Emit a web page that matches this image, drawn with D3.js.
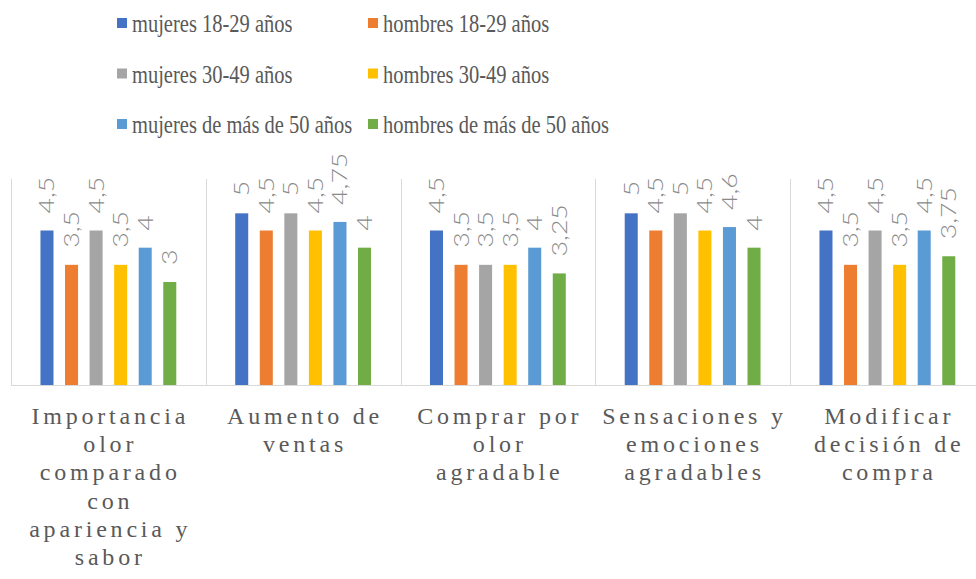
<!DOCTYPE html>
<html>
<head>
<meta charset="utf-8">
<script src="https://cdn.jsdelivr.net/npm/d3@7"></script>
<style>
  html, body { margin: 0; padding: 0; background: #ffffff; }
  svg { display: block; }
  .serif { font-family: "Liberation Serif", "Tinos", "Noto Serif", "DejaVu Serif", "FreeSerif", "Nimbus Roman", "Noto Serif CJK SC", "Times New Roman", Times, serif; }
  .lbl { font-family: Lato, "Open Sans", sans-serif; }
</style>
</head>
<body>
<svg id="chart" width="976" height="579"></svg>
<script>
// ---- data ----
const categories = [
  "Importancia olor comparado con apariencia y sabor",
  "Aumento de ventas",
  "Comprar por olor agradable",
  "Sensaciones y emociones agradables",
  "Modificar decisión de compra"
];
const categoryLines = [
  ["Importancia", "olor", "comparado", "con", "apariencia y", "sabor"],
  ["Aumento de", "ventas"],
  ["Comprar por", "olor", "agradable"],
  ["Sensaciones y", "emociones", "agradables"],
  ["Modificar", "decisión de", "compra"]
];
const seriesNames = [
  "mujeres 18-29 años",
  "hombres 18-29 años",
  "mujeres 30-49 años",
  "hombres 30-49 años",
  "mujeres de más de 50 años",
  "hombres de más de 50 años"
];
const seriesColors = ["#4472C4", "#ED7D31", "#A5A5A5", "#FFC000", "#5B9BD5", "#70AD47"];
const mujeres1829 = [4.5, 5, 4.5, 5, 4.5];
const hombres1829 = [3.5, 4.5, 3.5, 4.5, 3.5];
const mujeres3049 = [4.5, 5, 3.5, 5, 4.5];
const hombres3049 = [3.5, 4.5, 3.5, 4.5, 3.5];
const mujeres50 = [4, 4.75, 4, 4.6, 4.5];
const hombres50 = [3, 4, 3.25, 4, 3.75];
const yDomain = [0, 6];

const seriesValues = [mujeres1829, hombres1829, mujeres3049, hombres3049, mujeres50, hombres50];

// ---- layout ----
const svg = d3.select("#chart");
const plotLeft = 11, catWidth = 194.75;
const baseY = 385, topY = 179;

const x0 = d3.scaleBand()
  .domain(categories)
  .range([plotLeft, plotLeft + catWidth * categories.length])
  .paddingInner(0).paddingOuter(0);

const x1 = d3.scaleBand()
  .domain(seriesNames)
  .range([0, x0.bandwidth()])
  .paddingInner(0.47)
  .paddingOuter(1.2);

const y = d3.scaleLinear().domain(yDomain).range([baseY, topY]);

const gridColor = "#d9d9d9";

// category separators
const seps = categories.map(c => x0(c)).concat([x0.range()[1]]);
svg.append("g").selectAll("line").data(seps).join("line")
  .attr("x1", d => Math.round(d) + 0.5).attr("x2", d => Math.round(d) + 0.5)
  .attr("y1", y(yDomain[1])).attr("y2", baseY)
  .attr("stroke", gridColor).attr("stroke-width", 1);

// bars
const flat = [];
categories.forEach((c, ci) => {
  seriesNames.forEach((s, si) => {
    flat.push({ cat: c, ci, series: s, si, value: seriesValues[si][ci] });
  });
});

svg.append("g").selectAll("rect").data(flat).join("rect")
  .attr("x", d => x0(d.cat) + x1(d.series))
  .attr("width", x1.bandwidth())
  .attr("y", d => y(d.value))
  .attr("height", d => baseY - y(d.value))
  .attr("fill", d => seriesColors[d.si]);

// baseline
svg.append("line")
  .attr("x1", plotLeft).attr("x2", 976)
  .attr("y1", baseY + 0.5).attr("y2", baseY + 0.5)
  .attr("stroke", gridColor).attr("stroke-width", 1);

// data labels (rotated)
const fmt = v => String(v).replace(".", ",");
svg.append("g").selectAll("text").data(flat).join("text")
  .attr("class", "lbl")
  .attr("transform", d => {
    const cx = x0(d.cat) + x1(d.series) + x1.bandwidth() / 2;
    return `translate(${cx + 7.5},${y(d.value) - 17}) rotate(-90) scale(1.27,1)`;
  })
  .attr("text-anchor", "start")
  .attr("font-weight", 300)
  .attr("font-size", 21)
  .attr("fill", "#8a8a8a")
  .text(d => fmt(d.value));

// category labels
const catG = svg.append("g");
categories.forEach((c, ci) => {
  const cx = x0(c) + x0.bandwidth() / 2;
  const t = catG.append("text")
    .attr("class", "serif")
    .attr("text-anchor", "middle")
    .attr("font-size", 24)
    .attr("letter-spacing", 3.8)
    .attr("fill", "#595959");
  categoryLines[ci].forEach((line, li) => {
    t.append("tspan")
      .attr("x", cx + 1.9)
      .attr("y", 424 + li * 28.2)
      .text(line);
  });
});

// legend
const legendCols = [117, 368];
const legendRows = [32, 82.5, 133];
const legG = svg.append("g");
seriesNames.forEach((s, i) => {
  const col = i % 2, row = Math.floor(i / 2);
  const lx = legendCols[col], ly = legendRows[row];
  legG.append("rect")
    .attr("x", lx).attr("y", ly - 14)
    .attr("width", 10).attr("height", 10)
    .attr("fill", seriesColors[i]);
  legG.append("text")
    .attr("class", "serif")
    .attr("transform", `translate(${lx + 15},${ly}) scale(1,1.28)`)
    .attr("font-size", 20.5)
    .attr("fill", "#595959")
    .text(s);
});
</script>
</body>
</html>
